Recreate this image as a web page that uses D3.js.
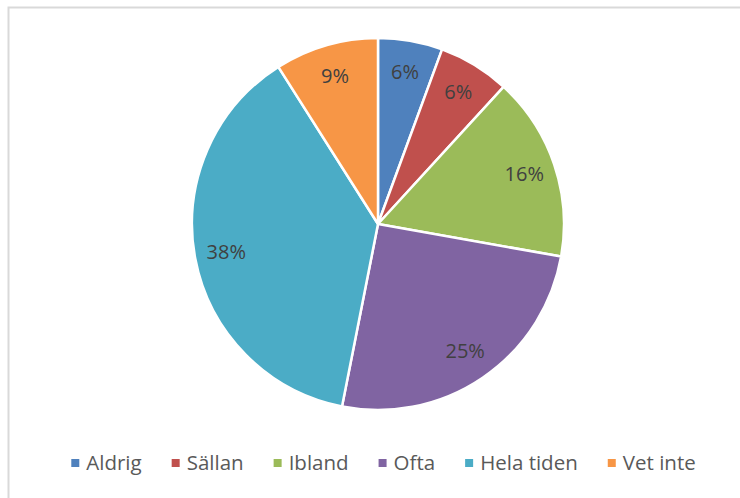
<!DOCTYPE html>
<html>
<head>
<meta charset="utf-8">
<script src="https://cdnjs.cloudflare.com/ajax/libs/d3/7.8.5/d3.min.js"></script>
<style>
  body { margin: 0; background: #fff; }
  text { font-family: "Open Sans", "Liberation Sans", sans-serif; }
</style>
</head>
<body>
<svg id="chart"></svg>
<script>
// Data
const categories = ["Aldrig", "Sällan", "Ibland", "Ofta", "Hela tiden", "Vet inte"];
const values = [5.6, 6.2, 16.0, 25.3, 37.9, 9.0];
const colors = ["#4f81bd", "#c0504d", "#9bbb59", "#8064a2", "#4bacc6", "#f79646"];

const width = 740, height = 498;
const cx = 378, cy = 224, radius = 186;

const svg = d3.select("#chart")
    .attr("width", width)
    .attr("height", height);

// Chart frame (only left and top edges are visible in the picture)
svg.append("rect")
    .attr("x", 8.5)
    .attr("y", 7.5)
    .attr("width", width + 20)
    .attr("height", height + 20)
    .attr("fill", "#fff")
    .attr("stroke", "#d9d9d9")
    .attr("stroke-width", 2);

const data = categories.map((c, i) => ({ key: c, value: values[i], color: colors[i] }));
const total = d3.sum(values);

const pie = d3.pie()
    .sort(null)
    .value(d => d.value);

const arc = d3.arc()
    .innerRadius(0)
    .outerRadius(radius);

const labelArc = d3.arc()
    .innerRadius(radius * 0.83)
    .outerRadius(radius * 0.83);

const g = svg.append("g")
    .attr("transform", `translate(${cx},${cy})`);

const arcs = pie(data);

g.selectAll(".slice")
    .data(arcs)
  .join("path")
    .attr("class", "slice")
    .attr("d", arc)
    .attr("fill", d => d.data.color)
    .attr("stroke", "#fff")
    .attr("stroke-width", 2.5)
    .attr("stroke-linejoin", "round");

const fmt = d3.format(".0%");

g.selectAll(".label")
    .data(arcs)
  .join("text")
    .attr("class", "label")
    .attr("transform", d => `translate(${labelArc.centroid(d)})`)
    .attr("text-anchor", "middle")
    .attr("dy", "0.35em")
    .attr("font-size", 20)
    .attr("fill", "#404040")
    .text(d => fmt(d.data.value / total));

// Legend
const legend = svg.append("g").attr("class", "legend");
const items = legend.selectAll(".item")
    .data(data)
  .join("g")
    .attr("class", "item");

items.append("rect")
    .attr("width", 8)
    .attr("height", 8)
    .attr("y", -4)
    .attr("fill", d => d.color);

items.append("text")
    .attr("x", 15)
    .attr("dy", "0.35em")
    .attr("font-size", 20.5)
    .attr("fill", "#595959")
    .text(d => d.key);

// place items side by side, centered
let xPos = 0;
const gap = 30;
items.each(function() {
  const w = this.getBBox().width;
  d3.select(this).attr("transform", `translate(${xPos},0)`);
  xPos += w + gap;
});
const legendWidth = xPos - gap;
legend.attr("transform", `translate(${383.5 - legendWidth / 2},463)`);
</script>
</body>
</html>
